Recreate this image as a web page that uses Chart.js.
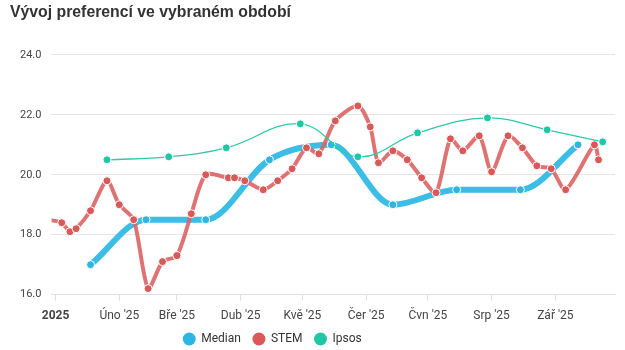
<!DOCTYPE html>
<html>
<head>
<meta charset="utf-8">
<script src="https://cdn.jsdelivr.net/npm/chart.js@4"></script>
<style>
  html, body { margin: 0; padding: 0; background: #fff; }
  #wrap { width: 625px; height: 350px; position: relative; }
</style>
</head>
<body>
<div id="wrap"><canvas id="prefChart"></canvas></div>
<script>
// month ticks on the x axis
const monthStarts = ['2025-01-01', '2025-02-01', '2025-03-01', '2025-04-01', '2025-05-01',
    '2025-06-01', '2025-07-01', '2025-08-01', '2025-09-01'];
const monthLabels = ['2025', "Úno '25", "Bře '25", "Dub '25", "Kvě '25", "Čer '25", "Čvn '25", "Srp '25", "Zář '25"];
const yTicks = [16, 18, 20, 22, 24];

// Median
const medianDates = ['2025-01-18', '2025-02-14', '2025-03-15', '2025-04-15', '2025-05-15',
    '2025-06-14', '2025-07-15', '2025-08-15', '2025-09-12'];
const medianValues = [17.0, 18.5, 18.5, 20.5, 21.0, 19.0, 19.5, 19.5, 21.0];

// STEM
const stemDates = ['2024-12-28', '2025-01-04', '2025-01-08', '2025-01-11', '2025-01-18', '2025-01-26',
    '2025-02-01', '2025-02-08', '2025-02-15', '2025-02-22', '2025-03-01', '2025-03-08', '2025-03-15',
    '2025-03-26', '2025-03-29', '2025-04-03', '2025-04-12', '2025-04-19', '2025-04-26', '2025-05-03',
    '2025-05-09', '2025-05-17', '2025-05-28', '2025-06-03', '2025-06-07', '2025-06-14', '2025-06-21',
    '2025-06-28', '2025-07-05', '2025-07-12', '2025-07-18', '2025-07-26', '2025-08-01', '2025-08-09',
    '2025-08-16', '2025-08-23', '2025-08-30', '2025-09-06', '2025-09-20', '2025-09-22'];
const stemValues = [18.5, 18.4, 18.1, 18.2, 18.8, 19.8, 19.0, 18.5, 16.2, 17.1, 17.3, 18.7, 20.0,
    19.9, 19.9, 19.8, 19.5, 19.8, 20.2, 20.9, 20.7, 21.8, 22.3, 21.6, 20.4, 20.8, 20.5, 19.9, 19.4,
    21.2, 20.8, 21.3, 20.1, 21.3, 20.9, 20.3, 20.2, 19.5, 21.0, 20.5];

// Ipsos
const ipsosDates = ['2025-01-26', '2025-02-25', '2025-03-25', '2025-04-30', '2025-05-28',
    '2025-06-26', '2025-07-30', '2025-08-28', '2025-09-24'];
const ipsosValues = [20.5, 20.6, 20.9, 21.7, 20.6, 21.4, 21.9, 21.5, 21.1];

// days since 1 Jan 2025
function dayOf(s) {
    const p = s.split('-').map(Number);
    return (Date.UTC(p[0], p[1] - 1, p[2]) - Date.UTC(2025, 0, 1)) / 86400000;
}
function toPoints(dates, values) {
    return dates.map((d, i) => ({ x: dayOf(d), y: values[i] }));
}

const tickDays = monthStarts.map(dayOf);

// legend sits tighter under the axis and a bit left of centre
const legendNudge = {
    id: 'legendNudge',
    afterInit(chart) {
        const lg = chart.legend;
        const fit = lg.fit;
        lg.fit = function () {
            fit.call(this);
            this.height -= 15;
        };
        const draw = lg.draw;
        lg.draw = function () {
            this.top -= 10;
            this.left -= 40;
            this.right -= 40;
            draw.call(this);
            this.top += 10;
            this.left += 40;
            this.right += 40;
        };
    },
};

function createChart() {
    const ctx = document.getElementById('prefChart').getContext('2d');
    new Chart(ctx, {
        type: 'line',
        data: {
            datasets: [{
                label: 'Median',
                data: toPoints(medianDates, medianValues),
                borderColor: '#3bbde6',
                backgroundColor: '#2eb6e3',
                pointBackgroundColor: '#2eb6e3',
                pointBorderColor: '#fff',
                pointBorderWidth: 1,
                pointRadius: 4,
                borderWidth: 6,
                cubicInterpolationMode: 'monotone',
                order: 3,
            }, {
                label: 'STEM',
                data: toPoints(stemDates, stemValues),
                borderColor: 'rgba(220, 100, 100, 0.9)',
                backgroundColor: '#d95858',
                pointBackgroundColor: '#d95858',
                pointBorderColor: '#fff',
                pointBorderWidth: 1,
                pointRadius: 4,
                borderWidth: 4,
                tension: 0.25,
                order: 2,
            }, {
                label: 'Ipsos',
                data: toPoints(ipsosDates, ipsosValues),
                borderColor: '#2ccaa8',
                backgroundColor: '#1fc7a6',
                pointBackgroundColor: '#1fc7a6',
                pointBorderColor: '#fff',
                pointBorderWidth: 1,
                pointRadius: 4,
                borderWidth: 1.3,
                tension: 0.4,
                order: 1,
            }],
        },
        plugins: [legendNudge],
        options: {
            responsive: true,
            maintainAspectRatio: false,
            animation: false,
            clip: 0,
            layout: { padding: { left: 10, right: 10, top: 0, bottom: 0 } },
            plugins: {
                title: {
                    display: true,
                    text: 'Vývoj preferencí ve vybraném období',
                    align: 'start',
                    color: '#333',
                    font: { family: 'Liberation Sans', size: 15.8, weight: 'bold' },
                    padding: { top: 3, bottom: 33 },
                },
                legend: {
                    position: 'bottom',
                    labels: {
                        usePointStyle: true,
                        pointStyle: 'circle',
                        boxWidth: 12,
                        boxHeight: 9.2,
                        color: '#333',
                        padding: 12,
                        font: { family: 'Roboto', size: 12 },
                        sort: (a, b) => a.datasetIndex - b.datasetIndex,
                        generateLabels: (chart) => {
                            const items = Chart.defaults.plugins.legend.labels.generateLabels(chart);
                            items.forEach(it => {
                                it.strokeStyle = it.fillStyle;
                                it.lineWidth = 0;
                            });
                            return items;
                        },
                    },
                },
                tooltip: { enabled: false },
            },
            scales: {
                x: {
                    type: 'linear',
                    min: -2,
                    max: 272,
                    afterBuildTicks: (axis) => {
                        axis.ticks = tickDays.map(v => ({ value: v }));
                    },
                    grid: {
                        drawOnChartArea: false,
                        drawTicks: true,
                        tickLength: 6,
                        color: '#e0e0e0',
                    },
                    border: { display: true, color: '#e0e0e0', width: 1 },
                    ticks: {
                        autoSkip: false,
                        maxRotation: 0,
                        padding: 8,
                        color: '#444',
                        font: (c) => ({
                            family: 'Roboto',
                            size: 12,
                            weight: c.tick && c.tick.value === 0 ? 'bold' : 'normal',
                        }),
                        callback: (value) => {
                            const i = tickDays.indexOf(value);
                            return i >= 0 ? monthLabels[i] : '';
                        },
                    },
                },
                y: {
                    min: yTicks[0],
                    max: yTicks[yTicks.length - 1],
                    afterBuildTicks: (axis) => {
                        axis.ticks = yTicks.map(v => ({ value: v }));
                    },
                    grid: {
                        color: '#e6e6e6',
                        drawTicks: false,
                    },
                    border: { display: false },
                    ticks: {
                        padding: 10,
                        color: '#444',
                        font: { family: 'Roboto', size: 11 },
                        callback: (value) => value.toFixed(1),
                    },
                },
            },
        },
    });
}

document.addEventListener('DOMContentLoaded', () => {
    createChart();
});
</script>
</body>
</html>
